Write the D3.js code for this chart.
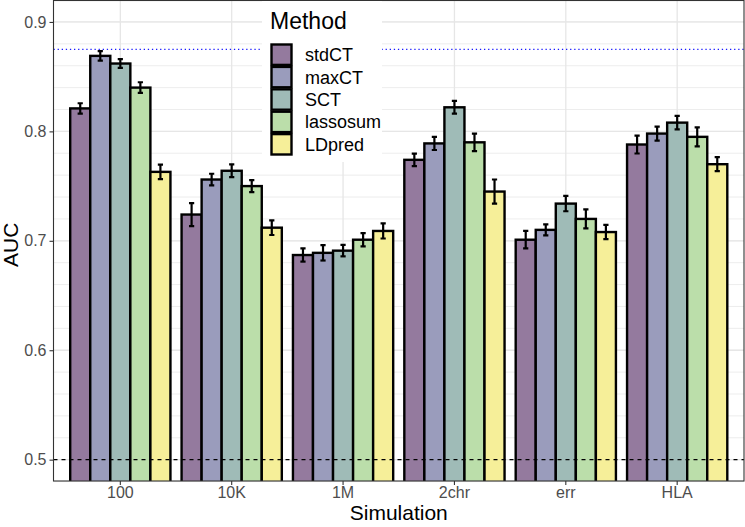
<!DOCTYPE html>
<html><head><meta charset="utf-8">
<script src="https://cdn.jsdelivr.net/npm/d3@7"></script>
<style>body{margin:0;background:#fff}svg{display:block}text{font-family:"Liberation Sans",Arial,sans-serif}</style>
</head><body><svg id="c" width="745" height="527"></svg>
<script>
const categories = ["100","10K","1M","2chr","err","HLA"];
const methods = ["stdCT","maxCT","SCT","lassosum","LDpred"];
const colors = ["#947a9e","#9a9cbc","#9fbbb7","#bbdeaa","#f6ef99"];
const stdCT    = [0.821, 0.724, 0.687, 0.774, 0.701, 0.788];
const maxCT    = [0.869, 0.756, 0.689, 0.789, 0.710, 0.798];
const SCT      = [0.862, 0.764, 0.691, 0.822, 0.734, 0.808];
const lassosum = [0.840, 0.750, 0.701, 0.790, 0.720, 0.795];
const LDpred   = [0.763, 0.712, 0.709, 0.745, 0.708, 0.770];
const errStdCT    = [0.0047, 0.0105, 0.0060, 0.0057, 0.0080, 0.0082];
const errMaxCT    = [0.0043, 0.0053, 0.0070, 0.0060, 0.0050, 0.0064];
const errSCT      = [0.0040, 0.0058, 0.0052, 0.0058, 0.0070, 0.0062];
const errLassosum = [0.0049, 0.0055, 0.0061, 0.0080, 0.0087, 0.0087];
const errLDpred   = [0.0067, 0.0067, 0.0069, 0.0110, 0.0065, 0.0064];
const yTicks = [0.5, 0.6, 0.7, 0.8, 0.9];
const refLine = 0.875;
const baseLine = 0.5;

const values = [stdCT, maxCT, SCT, lassosum, LDpred];
const errors = [errStdCT, errMaxCT, errSCT, errLassosum, errLDpred];
const data = [];
categories.forEach((c, i) => methods.forEach((m, j) => data.push({cat: c, method: m, v: values[j][i], e: errors[j][i], col: colors[j]})));

const svg = d3.select("#c");
const L = 53.5, R = 744, T = 0.5, B = 481;
const y = d3.scaleLinear().domain([0.4805, 0.9196]).range([B, T]);
const x = d3.scaleBand().domain(categories).range([L, R]).paddingInner(0).paddingOuter(0.1);
const step = x.bandwidth();
const x1 = d3.scaleBand().domain(methods).range([0.05 * step, 0.95 * step]).padding(0);

svg.append("defs").append("clipPath").attr("id", "clip").append("rect")
  .attr("x", L).attr("y", T).attr("width", R - L).attr("height", B - T);

const g = svg.append("g");
const minor = d3.range(0.48, 0.921, 0.02);
g.selectAll(".mn").data(minor).join("line")
  .attr("x1", L).attr("x2", R).attr("y1", d => y(d)).attr("y2", d => y(d))
  .attr("stroke", "#ebebeb").attr("stroke-width", 0.9);
g.selectAll(".mj").data(yTicks).join("line")
  .attr("x1", L).attr("x2", R).attr("y1", d => y(d)).attr("y2", d => y(d))
  .attr("stroke", "#e6e6e6").attr("stroke-width", 1.3);
g.selectAll(".vx").data(categories).join("line")
  .attr("x1", d => x(d) + step / 2).attr("x2", d => x(d) + step / 2).attr("y1", T).attr("y2", B)
  .attr("stroke", "#e6e6e6").attr("stroke-width", 1.3);

const pg = svg.append("g").attr("clip-path", "url(#clip)");
pg.append("line").attr("x1", L).attr("x2", R).attr("y1", y(refLine)).attr("y2", y(refLine))
  .attr("stroke", "#1a1aff").attr("stroke-width", 1.3).attr("stroke-dasharray", "1.3,2.8");
pg.selectAll(".bar").data(data).join("rect")
  .attr("x", d => x(d.cat) + x1(d.method))
  .attr("width", x1.bandwidth())
  .attr("y", d => y(d.v))
  .attr("height", d => y(0.46) - y(d.v))
  .attr("fill", d => d.col).attr("stroke", "#000").attr("stroke-width", 2.4);
const ew = x1.bandwidth() * 0.13;
const eb = pg.selectAll(".eb").data(data).join("g")
  .attr("transform", d => `translate(${x(d.cat) + x1(d.method) + x1.bandwidth() / 2},0)`);
eb.append("line").attr("x1", 0).attr("x2", 0).attr("y1", d => y(d.v - d.e)).attr("y2", d => y(d.v + d.e))
  .attr("stroke", "#000").attr("stroke-width", 2.2);
eb.append("line").attr("x1", -ew).attr("x2", ew).attr("y1", d => y(d.v - d.e)).attr("y2", d => y(d.v - d.e))
  .attr("stroke", "#000").attr("stroke-width", 2.2);
eb.append("line").attr("x1", -ew).attr("x2", ew).attr("y1", d => y(d.v + d.e)).attr("y2", d => y(d.v + d.e))
  .attr("stroke", "#000").attr("stroke-width", 2.2);
pg.append("line").attr("x1", L).attr("x2", R).attr("y1", y(baseLine)).attr("y2", y(baseLine))
  .attr("stroke", "#000").attr("stroke-width", 1.1).attr("stroke-dasharray", "4,4");

svg.append("rect").attr("x", L).attr("y", T).attr("width", R - L).attr("height", B - T)
  .attr("fill", "none").attr("stroke", "#333").attr("stroke-width", 1.1);

const ya = svg.append("g").attr("transform", `translate(${L},0)`)
  .call(d3.axisLeft(y).tickValues(yTicks).tickSize(4).tickPadding(3).tickFormat(d3.format(".1f")));
ya.select(".domain").remove();
ya.selectAll("line").attr("stroke", "#333").attr("stroke-width", 1.1);
ya.selectAll("text").attr("fill", "#4d4d4d").style("font-size", "16px");

const xa = svg.append("g").attr("transform", `translate(0,${B})`)
  .call(d3.axisBottom(x).tickSize(4).tickPadding(2));
xa.select(".domain").remove();
xa.selectAll("line").attr("stroke", "#333").attr("stroke-width", 1.1);
xa.selectAll("text").attr("fill", "#4d4d4d").style("font-size", "16px");

svg.append("text").attr("x", (L + R) / 2).attr("y", 520).attr("text-anchor", "middle")
  .style("font-size", "21px").attr("fill", "#000").text("Simulation");
svg.append("text").attr("transform", `translate(18,${(T + B) / 2 + 4}) rotate(-90)`).attr("text-anchor", "middle")
  .style("font-size", "21px").attr("fill", "#000").text("AUC");

const lg = svg.append("g");
lg.append("rect").attr("x", 262).attr("y", 1).attr("width", 120).attr("height", 161).attr("fill", "#fff");
lg.append("text").attr("x", 270).attr("y", 29).style("font-size", "23px").attr("fill", "#000").text("Method");
const keyH = 22.4;
methods.forEach((m, j) => {
  const ky = 43.5 + j * keyH;
  lg.append("rect").attr("x", 271.5).attr("y", ky + 1).attr("width", 20).attr("height", keyH - 2)
    .attr("fill", colors[j]).attr("stroke", "#000").attr("stroke-width", 2.4);
  lg.append("text").attr("x", 305).attr("y", ky + keyH / 2 + 6.5).style("font-size", "18px").attr("fill", "#000").text(m);
});
</script></body></html>
